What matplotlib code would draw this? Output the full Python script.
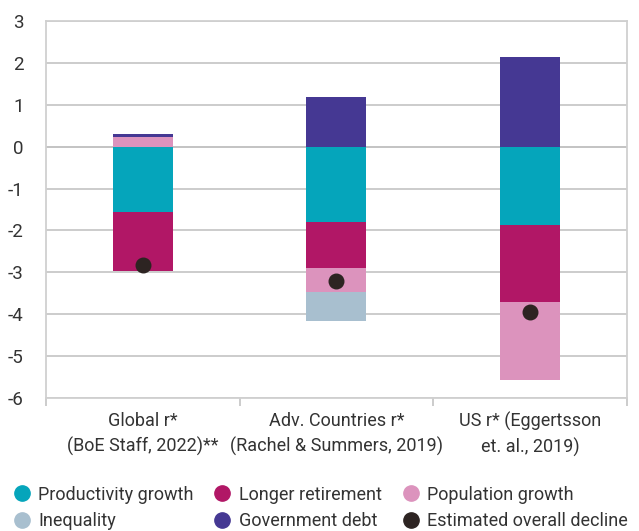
import numpy as np
import matplotlib.pyplot as plt
from matplotlib.lines import Line2D

plt.rcParams['font.family'] = ['Roboto', 'DejaVu Sans']

# Data
categories = ["Global r*\n(BoE Staff, 2022)**",
              "Adv. Countries r*\n(Rachel & Summers, 2019)",
              "US r* (Eggertsson\net. al., 2019)"]
productivity = [-1.57, -1.79, -1.87]
retirement = [-1.41, -1.11, -1.85]
population = [0.22, -0.58, -1.84]
inequality = [0.0, -0.69, 0.0]
gov_debt = [0.07, 1.19, 2.15]
overall = [-2.83, -3.20, -3.95]

series = [
    ("Productivity growth", productivity, "#05A5BB"),
    ("Longer retirement", retirement, "#B11766"),
    ("Population growth", population, "#DC93BD"),
    ("Inequality", inequality, "#A8BFCF"),
    ("Government debt", gov_debt, "#453893"),
]
dot_color = "#2D2422"

fig = plt.figure(figsize=(6.39, 5.31), dpi=100)
ax = fig.add_axes([0.072, 0.2505, 0.909, 0.71])

x = np.arange(len(categories))
width = 0.31
pos_bottom = np.zeros(len(categories))
neg_bottom = np.zeros(len(categories))
for name, vals, color in series:
    vals = np.array(vals)
    pos = np.where(vals > 0, vals, 0)
    neg = np.where(vals < 0, vals, 0)
    ax.bar(x, pos, width, bottom=pos_bottom, color=color, zorder=3)
    ax.bar(x, neg, width, bottom=neg_bottom, color=color, zorder=3)
    pos_bottom += pos
    neg_bottom += neg

ax.scatter(x, overall, s=110, color=dot_color, zorder=4)

ax.set_xlim(-0.5, 2.5)
ax.set_ylim(-6, 3)
ax.set_yticks(range(-6, 4))
ax.set_yticklabels([str(v) for v in range(-6, 4)])
ax.grid(axis="y", color="#C8C8C8", linewidth=1.3, zorder=0)
ax.axhline(0, color="#999999", linewidth=1.3, zorder=1)

ax.set_xticks([-0.5, 0.5, 1.5, 2.5])
ax.set_xticklabels([])
ax.set_xticks(x, minor=True)
ax.set_xticklabels(categories, minor=True, fontsize=13, color="#333333",
                   linespacing=1.45)
ax.tick_params(axis="x", which="major", length=6, color="#C8C8C8", width=1.3)
ax.tick_params(axis="x", which="minor", length=0, pad=10)
ax.tick_params(axis="y", length=0, pad=16, labelsize=13.5, labelcolor="#333333")

for s in ax.spines.values():
    s.set_color("#D0D0D0")
    s.set_linewidth(1.3)

labels = [s[0] for s in series] + ["Estimated overall decline"]
colors = [s[2] for s in series] + [dot_color]
order = [0, 3, 1, 4, 2, 5]
handles = [Line2D([], [], marker="o", linestyle="", markersize=11,
                  color=colors[i]) for i in order]
fig.legend(handles, [labels[i] for i in order], ncol=3, frameon=False,
           loc="lower left", bbox_to_anchor=(0.02, 0.002),
           fontsize=13, handlelength=1.0, handletextpad=0.4,
           columnspacing=1.1, labelspacing=0.45, borderpad=0,
           borderaxespad=0, labelcolor="#333333")

plt.savefig("out.png", dpi=100)
